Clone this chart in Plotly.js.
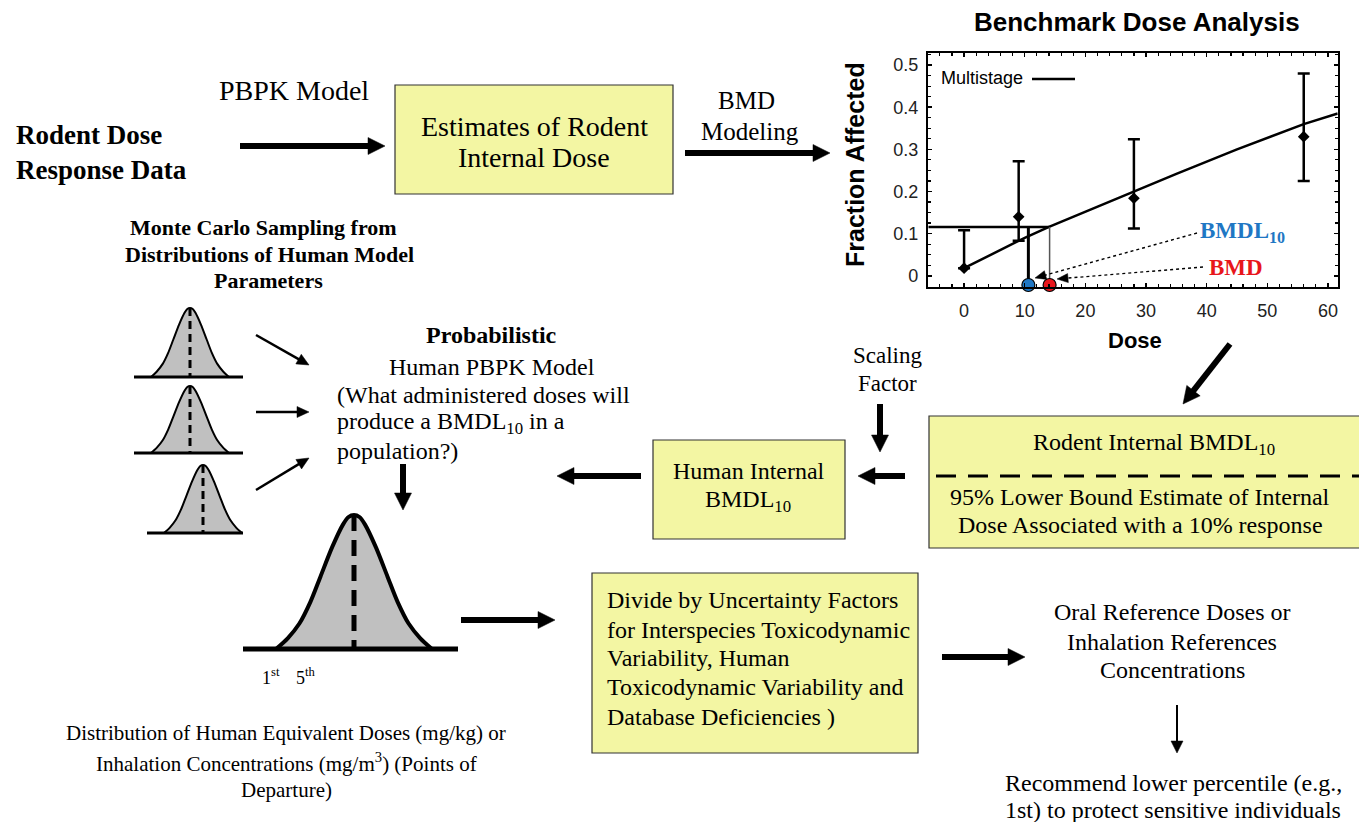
<!DOCTYPE html>
<html>
<head>
<meta charset="utf-8">
<script src="https://cdn.plot.ly/plotly-3.0.1.min.js"></script>
<style>
  html, body { margin: 0; padding: 0; background: #ffffff; }
  #chart { width: 1359px; height: 822px; }
</style>
</head>
<body>
<div id="chart"></div>
<script>
// ---- Benchmark dose panel: observed incidence with confidence limits ----
const doseLevels = [0, 9, 28, 56];
const fractionAffected = [0.018, 0.14, 0.184, 0.33];
const upperLimit = [0.108, 0.272, 0.324, 0.48];
const lowerLimit = [0.018, 0.083, 0.112, 0.225];

// Fitted multistage curve
const modelDose = [0, 5, 10, 14, 20, 28, 35, 45, 56, 61.6];
const modelFraction = [0.018, 0.054, 0.09, 0.116, 0.152, 0.2, 0.242, 0.3, 0.36, 0.385];

// Benchmark response and the doses it gives
const benchmarkResponse = 0.116;
const bmdValue = 14.1;
const bmdlValue = 10.6;

const doseTicks = [0, 10, 20, 30, 40, 50, 60];
const fractionTicks = [0, 0.1, 0.2, 0.3, 0.4, 0.5];
const fractionTickLabels = ['0', '0.1', '0.2', '0.3', '0.4', '0.5'];

// Outline of the bell-shaped distributions (offset from centre, relative height)
const bellOffset = [-1, -0.85, -0.7, -0.56, -0.43, -0.28, -0.14, -0.07, 0, 0.07, 0.14, 0.28, 0.43, 0.56, 0.7, 0.85, 1];
const bellHeight = [0, 0.08, 0.19, 0.35, 0.54, 0.76, 0.93, 0.985, 1, 0.985, 0.93, 0.76, 0.54, 0.35, 0.19, 0.08, 0];

// ---- fonts and colours ----
const SERIF = '"Liberation Serif", "Times New Roman", Times, serif';
const SANS = '"Liberation Sans", Arial, Helvetica, sans-serif';
const BOX_FILL = '#f3f6a3';
const BOX_LINE = '#333333';

const traces = [];
const shapes = [];
const annotations = [];

// ---- bell curves drawn on the page coordinate axes ----
function bell(cx, base, halfWidth, peak, lineW, axisFrom, axisTo, axisW, dash, dashW) {
  traces.push({
    type: 'scatter', mode: 'lines', xaxis: 'x', yaxis: 'y',
    x: bellOffset.map(u => cx + u * halfWidth),
    y: bellHeight.map(h => base - h * peak),
    fill: 'toself', fillcolor: '#c0c0c0',
    line: { color: '#000', width: lineW, shape: 'spline', smoothing: 0.8 },
    hoverinfo: 'skip', showlegend: false
  });
  shapes.push({ type: 'line', xref: 'x', yref: 'y', x0: cx, x1: cx, y0: base - peak, y1: base,
    line: { color: '#000', width: dashW, dash: dash } });
  shapes.push({ type: 'line', xref: 'x', yref: 'y', x0: axisFrom, x1: axisTo, y0: base, y1: base,
    line: { color: '#000', width: axisW } });
}
bell(190, 377, 39, 69, 2, 134, 243, 3, '8px,5px', 3);
bell(190, 453, 39, 67, 2, 134, 243, 3, '8px,5px', 3);
bell(203, 533, 39, 68, 2, 147, 243, 3, '8px,5px', 3);
bell(354, 649, 78, 134, 4, 243, 458, 5, '16px,9px', 5);

// ---- benchmark dose chart traces ----
traces.push({
  type: 'scatter', mode: 'lines', xaxis: 'x2', yaxis: 'y2',
  x: modelDose, y: modelFraction,
  line: { color: '#000', width: 2.5 }, hoverinfo: 'skip', showlegend: false
});
traces.push({
  type: 'scatter', mode: 'markers', xaxis: 'x2', yaxis: 'y2',
  x: doseLevels, y: fractionAffected,
  marker: { symbol: 'diamond', size: 9, color: '#000' },
  error_y: {
    type: 'data', symmetric: false,
    array: upperLimit.map((u, i) => u - fractionAffected[i]),
    arrayminus: lowerLimit.map((l, i) => fractionAffected[i] - l),
    color: '#000', thickness: 2.5, width: 6
  },
  showlegend: false
});
// benchmark response line and the two dose drop lines
traces.push({
  type: 'scatter', mode: 'lines', xaxis: 'x2', yaxis: 'y2',
  x: [-5.9, bmdValue], y: [benchmarkResponse, benchmarkResponse],
  line: { color: '#000', width: 2.5 }, hoverinfo: 'skip', showlegend: false
});
traces.push({
  type: 'scatter', mode: 'lines', xaxis: 'x2', yaxis: 'y2',
  x: [bmdlValue, bmdlValue], y: [benchmarkResponse, -0.022],
  line: { color: '#000', width: 3 }, hoverinfo: 'skip', showlegend: false
});
traces.push({
  type: 'scatter', mode: 'lines', xaxis: 'x2', yaxis: 'y2',
  x: [bmdValue, bmdValue], y: [benchmarkResponse, -0.022],
  line: { color: '#555', width: 1.5 }, hoverinfo: 'skip', showlegend: false
});
traces.push({
  type: 'scatter', mode: 'markers', xaxis: 'x2', yaxis: 'y2', cliponaxis: false,
  x: [bmdlValue, bmdValue], y: [-0.022, -0.022],
  marker: { size: 13, color: ['#1f77c4', '#e8161b'], line: { color: '#000', width: 1.2 } },
  hoverinfo: 'skip', showlegend: false
});

// ---- boxes ----
function box(x0, y0, x1, y1) {
  shapes.push({ type: 'rect', xref: 'x', yref: 'y', x0, y0, x1, y1, layer: 'below',
    fillcolor: BOX_FILL, line: { color: BOX_LINE, width: 1.2 } });
}
box(395, 85, 673, 194);
box(653, 440, 845, 539);
box(929, 416, 1365, 548);
box(592, 573, 918, 753);
shapes.push({ type: 'line', xref: 'x', yref: 'y', x0: 936, x1: 1359, y0: 476, y1: 476,
  line: { color: '#000', width: 3, dash: '20px,12px' } });

// legend sample line of the chart
shapes.push({ type: 'line', xref: 'x', yref: 'y', x0: 1032, x1: 1075, y0: 79, y1: 79,
  line: { color: '#000', width: 2.5 } });

// ---- arrows: a shaft plus a filled triangular head ----
function arrow(x0, y0, x1, y1, w, headLen, headHalf, dash) {
  const len = Math.hypot(x1 - x0, y1 - y0);
  const ux = (x1 - x0) / len, uy = (y1 - y0) / len;
  const bx = x1 - ux * headLen, by = y1 - uy * headLen;
  shapes.push({ type: 'line', xref: 'x', yref: 'y', x0, y0,
    x1: bx + ux * 1, y1: by + uy * 1,
    line: { color: '#000', width: w, dash: dash || 'solid' } });
  const px = -uy * headHalf, py = ux * headHalf;
  shapes.push({ type: 'path', xref: 'x', yref: 'y',
    path: `M${x1},${y1} L${bx + px},${by + py} L${bx - px},${by - py} Z`,
    fillcolor: '#000', line: { color: '#000', width: 0.5 } });
}
arrow(240, 146, 385, 146, 6, 17, 8.5);
arrow(685, 153, 830, 153, 6, 17, 8.5);
arrow(1230, 344, 1183, 404, 6, 17, 8.5);
arrow(880, 404, 880, 452, 6, 17, 8.5);
arrow(905, 476, 858, 476, 6, 17, 8.5);
arrow(641, 476, 557, 476, 6, 17, 8.5);
arrow(403, 464, 403, 510, 6, 17, 8.5);
arrow(461, 620, 555, 620, 6, 17, 8.5);
arrow(942, 657, 1025, 657, 6, 17, 8.5);
arrow(1177, 705, 1177, 753, 2, 12, 6);
arrow(256, 335, 309, 365, 2.5, 12, 5.5);
arrow(256, 412, 309, 412, 2.5, 12, 5.5);
arrow(256, 490, 309, 458, 2.5, 12, 5.5);
// dotted pointers from the BMDL / BMD labels
arrow(1197, 233, 1035, 278, 1.4, 11, 4.5, 'dot');
arrow(1203, 267, 1057, 279, 1.4, 11, 4.5, 'dot');

// ---- text ----
function label(text, x, y, size, opts) {
  opts = opts || {};
  annotations.push({
    text, x, y, xref: 'x', yref: 'y', showarrow: false,
    xanchor: opts.anchor || 'center', yanchor: 'middle',
    textangle: opts.angle || 0,
    font: { family: opts.family || SERIF, size, color: opts.color || '#000' }
  });
}

label('PBPK Model', 294, 90, 28);
label('<b>Rodent Dose</b>', 14, 135, 27, { anchor: 'left' });
label('<b>Response Data</b>', 14, 170, 27, { anchor: 'left' });
label('Estimates of Rodent', 534, 126, 28);
label('Internal Dose', 534, 157, 28);
label('BMD', 746, 100, 25);
label('Modeling', 750, 131, 25);

label('<b>Benchmark Dose Analysis</b>', 1137, 22, 26, { family: SANS });
label('Multistage', 939, 78, 18, { family: SANS, anchor: 'left' });
label('<b>Fraction Affected</b>', 855, 165, 25, { family: SANS, angle: -90 });
label('<b>Dose</b>', 1135, 340, 22, { family: SANS });
label('<b>BMDL<sub>10</sub></b>', 1198, 232, 23, { anchor: 'left', color: '#1f77c4' });
label('<b>BMD</b>', 1207, 267, 23, { anchor: 'left', color: '#e8161b' });

label('<b>Monte Carlo Sampling from</b>', 263, 227, 22);
label('<b>Distributions of Human Model</b>', 269, 254, 22);
label('<b>Parameters</b>', 268, 280, 22);

label('<b>Probabilistic</b>', 491, 335, 24);
label('Human PBPK Model', 492, 367, 24);
label('(What administered doses will', 335, 395, 24, { anchor: 'left' });
label('produce a BMDL<sub>10</sub> in a', 335, 423, 24, { anchor: 'left' });
label('population?)', 335, 451, 24, { anchor: 'left' });

label('Scaling', 887, 355, 23);
label('Factor', 887, 383, 23);

label('Human Internal', 749, 471, 24);
label('BMDL<sub>10</sub>', 748, 501, 24);

label('Rodent Internal BMDL<sub>10</sub>', 1154, 444, 24);
label('95% Lower Bound Estimate of Internal', 1140, 497, 24);
label('Dose Associated with a 10% response', 1140, 525, 24);

const ufLines = ['Divide by Uncertainty Factors', 'for Interspecies Toxicodynamic',
  'Variability, Human', 'Toxicodynamic Variability and', 'Database Deficiencies )'];
const ufY = [600, 630, 658, 687, 717];
ufLines.forEach((t, i) => label(t, 605, ufY[i], 24, { anchor: 'left' }));

label('Oral Reference Doses or', 1172, 612, 24);
label('Inhalation References', 1172, 642, 24);
label('Concentrations', 1172, 670, 24);

label('Recommend lower percentile (e.g.,', 1173, 783, 24);
label('1st) to protect sensitive individuals', 1173, 810, 24);

label('Distribution of Human Equivalent Doses (mg/kg) or', 286, 733, 21);
label('Inhalation Concentrations (mg/m<sup>3</sup>) (Points of', 286, 762, 21);
label('Departure)', 286, 790, 21);

label('1<sup>st</sup>', 260, 676, 18, { anchor: 'left' });
label('5<sup>th</sup>', 294, 676, 18, { anchor: 'left' });

const layout = {
  width: 1359, height: 822,
  margin: { l: 0, r: 0, t: 0, b: 0, pad: 0 },
  paper_bgcolor: '#ffffff', plot_bgcolor: 'rgba(0,0,0,0)',
  showlegend: false,
  xaxis: { domain: [0, 1], range: [0, 1359], visible: false, fixedrange: true },
  yaxis: { domain: [0, 1], range: [822, 0], visible: false, fixedrange: true },
  xaxis2: {
    domain: [928.3 / 1359, 1337.7 / 1359], anchor: 'y2',
    range: [-5.9, 61.6], tickvals: doseTicks, showgrid: false, zeroline: false,
    showline: true, mirror: 'allticks', linecolor: '#000', linewidth: 2.5,
    ticks: 'inside', ticklen: 4, tickwidth: 1.5, tickcolor: '#000',
    minor: { ticks: 'inside', ticklen: 2.5, dtick: 2, tickcolor: '#000', tickwidth: 1.2 },
    tickfont: { family: SANS, size: 18, color: '#222' }, ticklabelstandoff: 6
  },
  yaxis2: {
    domain: [1 - 286.7 / 822, 1 - 53.3 / 822], anchor: 'x2',
    range: [-0.026, 0.528], tickvals: fractionTicks, ticktext: fractionTickLabels,
    showgrid: false, zeroline: false,
    showline: true, mirror: 'allticks', linecolor: '#000', linewidth: 2.5,
    ticks: 'inside', ticklen: 4, tickwidth: 1.5, tickcolor: '#000',
    minor: { ticks: 'inside', ticklen: 2.5, dtick: 0.025, tickcolor: '#000', tickwidth: 1.2 },
    tickfont: { family: SANS, size: 18, color: '#222' }, ticklabelstandoff: 4
  },
  shapes, annotations
};

Plotly.newPlot('chart', traces, layout, { staticPlot: true, displayModeBar: false });
</script>
</body>
</html>
